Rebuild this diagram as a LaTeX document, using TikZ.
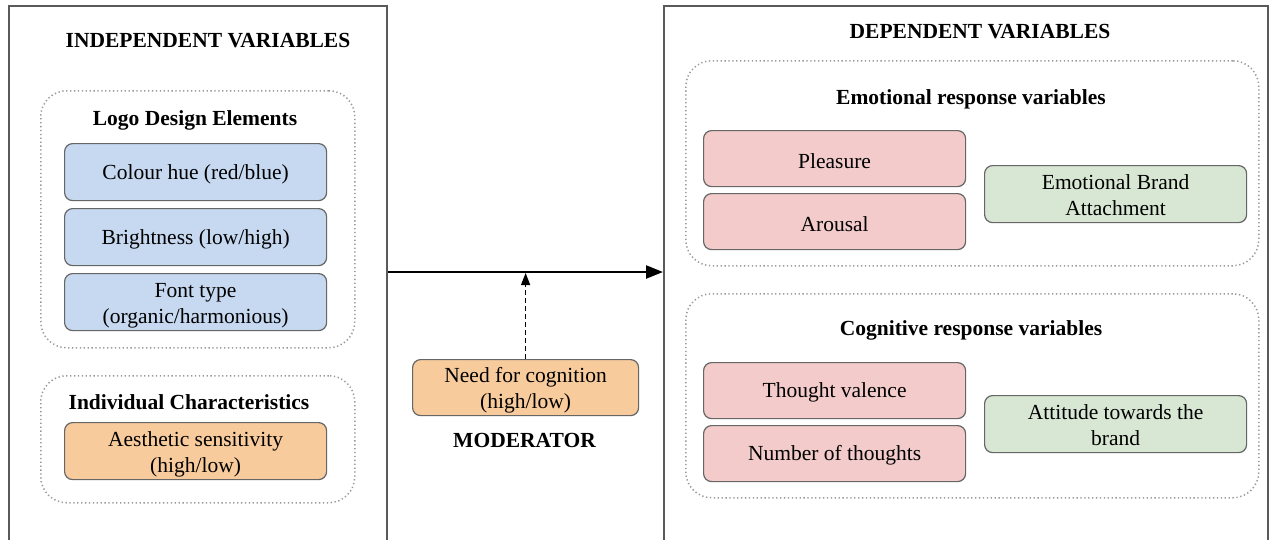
\documentclass[tikz,border=0pt]{standalone}
\usepackage{fontspec}
\setmainfont{Liberation Serif}
\usetikzlibrary{arrows.meta}
\definecolor{bluefill}{HTML}{C6D9F1}
\definecolor{orangefill}{HTML}{F8CB9C}
\definecolor{pinkfill}{HTML}{F2CBCA}
\definecolor{greenfill}{HTML}{D8E7D3}
\definecolor{boxline}{HTML}{666666}
\definecolor{panelline}{HTML}{5A5A5A}
\definecolor{dotline}{HTML}{999999}
\newcommand{\firstline}{\rule{0pt}{19pt}}
\newcommand{\twoline}{\rule{0pt}{21pt}}
\newcommand{\greenline}{\rule{0pt}{16pt}}
\tikzset{
  every node/.style={font=\fontsize{21.5}{26}\selectfont},
  panel/.style={draw=panelline, line width=1.5pt, anchor=north west, inner sep=0},
  group/.style={draw=dotline, line width=1.5pt, dash pattern=on 1.3pt off 2.6pt, rounded corners=26pt, anchor=north west, inner sep=0},
  varbox/.style={draw=boxline, line width=1.2pt, rounded corners=8pt, align=center, inner sep=0, anchor=north west},
  heading/.style={font=\fontsize{21.5}{26}\selectfont\bfseries, inner sep=0, anchor=base},
  mainarrow/.style={line width=2.4pt, -{Triangle[length=17pt,width=13pt]}},
  modarrow/.style={line width=1.2pt, dash pattern=on 5pt off 3pt, -{Triangle[length=12pt,width=9pt]}}
}
\begin{document}
\begin{tikzpicture}[x=1pt,y=-1pt]
\useasboundingbox (0,0) rectangle (1270,539);
\clip (0,0) rectangle (1270,539);
\fill[white] (0,0) rectangle (1270,539);

% panels
\node[panel, minimum width=378pt, minimum height=580pt] (indep) at (8,5) {};
\node[panel, minimum width=604pt, minimum height=580pt] (dep) at (663,5) {};

% left panel
\node[heading] (indeptitle) at (208,47) {INDEPENDENT VARIABLES};
\node[group, minimum width=314pt, minimum height=257pt] (logo) at (40,90) {};
\node[heading] (logotitle) at (195,125) {Logo Design Elements};
\node[varbox, fill=bluefill, minimum width=262pt, minimum height=57pt] (hue) at (64,143) {\firstline Colour hue (red/blue)};
\node[varbox, fill=bluefill, minimum width=262pt, minimum height=57pt] (bright) at (64,208) {\firstline Brightness (low/high)};
\node[varbox, fill=bluefill, minimum width=262pt, minimum height=57pt] (font) at (64,273) {\twoline Font type\\(organic/harmonious)};

\node[group, minimum width=314pt, minimum height=127pt] (indiv) at (40,375) {};
\node[heading] (indivtitle) at (189,409) {Individual Characteristics};
\node[varbox, fill=orangefill, minimum width=262pt, minimum height=57pt] (aes) at (64,422) {\twoline Aesthetic sensitivity\\(high/low)};

% moderator
\node[varbox, fill=orangefill, minimum width=226pt, minimum height=56pt] (need) at (412,359) {\twoline Need for cognition\\(high/low)};
\node[heading] (modtitle) at (524.5,447) {MODERATOR};

% right panel
\node[heading] (deptitle) at (980,38) {DEPENDENT VARIABLES};
\node[group, minimum width=573pt, minimum height=205pt] (emo) at (685,60) {};
\node[heading] (emotitle) at (971,104) {Emotional response variables};
\node[varbox, fill=pinkfill, minimum width=262pt, minimum height=56pt] (pleasure) at (703,130) {\firstline Pleasure};
\node[varbox, fill=pinkfill, minimum width=262pt, minimum height=56pt] (arousal) at (703,193) {\firstline Arousal};
\node[varbox, fill=greenfill, minimum width=262pt, minimum height=57pt] (eba) at (984,165) {\greenline Emotional Brand\\Attachment};

\node[group, minimum width=573pt, minimum height=204pt] (cog) at (685,293) {};
\node[heading] (cogtitle) at (971,335) {Cognitive response variables};
\node[varbox, fill=pinkfill, minimum width=262pt, minimum height=56pt] (valence) at (703,362) {\firstline Thought valence};
\node[varbox, fill=pinkfill, minimum width=262pt, minimum height=56pt] (number) at (703,425) {\firstline Number of thoughts};
\node[varbox, fill=greenfill, minimum width=262pt, minimum height=57pt] (att) at (984,395) {\greenline Attitude towards the\\brand};

% connectors
\coordinate (mstart) at (indep.east |- 0,272);
\coordinate (mend) at (dep.west |- 0,272);
\draw[mainarrow] (mstart) -- (mend);
\coordinate (mhit) at (need.north |- 0,273);
\draw[modarrow] (need.north) -- (mhit);
\end{tikzpicture}
\end{document}
